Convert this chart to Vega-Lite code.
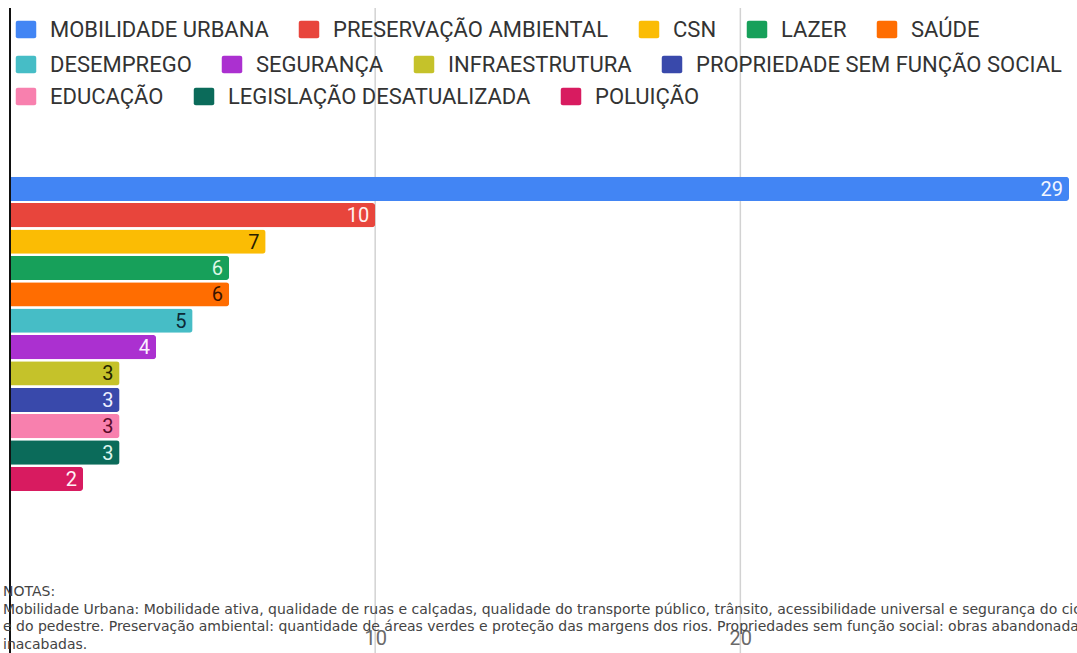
{
  "$schema": "https://vega.github.io/schema/vega-lite/v6.json",
  "width": 1059,
  "height": 645,
  "autosize": {"type": "none"},
  "padding": {"left": 10, "top": 8, "right": 8, "bottom": 0},
  "background": "white",
  "config": {
    "view": {"stroke": null},
    "font": "Roboto",
    "legend": {
      "padding": 0,
      "direction": "horizontal",
      "gridAlign": "none",
      "labelFont": "Roboto",
      "labelFontSize": 22,
      "labelColor": "#333333",
      "labelLimit": 1000,
      "labelOffset": 13,
      "columnPadding": 29,
      "symbolSize": 420,
      "symbolType": "M-1,-0.65 Q-1,-0.85 -0.8,-0.85 L0.8,-0.85 Q1,-0.85 1,-0.65 L1,0.65 Q1,0.85 0.8,0.85 L-0.8,0.85 Q-1,0.85 -1,0.65 Z",
      "symbolStrokeWidth": 0,
      "symbolOpacity": 1,
      "title": null
    }
  },
  "title": {
    "text": [
      "NOTAS:",
      "Mobilidade Urbana: Mobilidade ativa, qualidade de ruas e calçadas, qualidade do transporte público, trânsito, acessibilidade universal e segurança do ciclista",
      "e do pedestre. Preservação ambiental: quantidade de áreas verdes e proteção das margens dos rios. Propriedades sem função social:  obras abandonadas e",
      "inacabadas."
    ],
    "orient": "bottom",
    "anchor": "start",
    "frame": "group",
    "offset": -69,
    "dx": -7,
    "font": "DejaVu Sans",
    "fontSize": 14,
    "fontWeight": "normal",
    "lineHeight": 17.6,
    "color": "#444444"
  },
  "data": {
    "values": [
      {"categoria": "MOBILIDADE URBANA", "valor": 29},
      {"categoria": "PRESERVAÇÃO AMBIENTAL", "valor": 10},
      {"categoria": "CSN", "valor": 7},
      {"categoria": "LAZER", "valor": 6},
      {"categoria": "SAÚDE", "valor": 6},
      {"categoria": "DESEMPREGO", "valor": 5},
      {"categoria": "SEGURANÇA", "valor": 4},
      {"categoria": "INFRAESTRUTURA", "valor": 3},
      {"categoria": "PROPRIEDADE SEM FUNÇÃO SOCIAL", "valor": 3},
      {"categoria": "EDUCAÇÃO", "valor": 3},
      {"categoria": "LEGISLAÇÃO DESATUALIZADA", "valor": 3},
      {"categoria": "POLUIÇÃO", "valor": 2}
    ]
  },
  "layer": [
    {
      "data": {"values": [{"grade": 10}, {"grade": 20}]},
      "mark": {"type": "rule", "color": "#d2d2d2", "strokeWidth": 1.5},
      "encoding": {"x": {"field": "grade", "type": "quantitative"}}
    },
    {
      "transform": [{"filter": {"field": "categoria", "oneOf": ["MOBILIDADE URBANA", "PRESERVAÇÃO AMBIENTAL", "CSN", "LAZER", "SAÚDE"]}}],
      "mark": {"type": "bar", "cornerRadiusEnd": 3},
      "encoding": {
        "y": {
          "field": "categoria",
          "type": "nominal",
          "sort": ["MOBILIDADE URBANA", "PRESERVAÇÃO AMBIENTAL", "CSN", "LAZER", "SAÚDE", "DESEMPREGO", "SEGURANÇA", "INFRAESTRUTURA", "PROPRIEDADE SEM FUNÇÃO SOCIAL", "EDUCAÇÃO", "LEGISLAÇÃO DESATUALIZADA", "POLUIÇÃO"],
          "scale": {"domain": ["MOBILIDADE URBANA", "PRESERVAÇÃO AMBIENTAL", "CSN", "LAZER", "SAÚDE", "DESEMPREGO", "SEGURANÇA", "INFRAESTRUTURA", "PROPRIEDADE SEM FUNÇÃO SOCIAL", "EDUCAÇÃO", "LEGISLAÇÃO DESATUALIZADA", "POLUIÇÃO"], "range": [168.7, 483], "paddingInner": 0.08, "paddingOuter": 0},
          "axis": null
        },
        "x": {
          "field": "valor",
          "type": "quantitative",
          "scale": {"domain": [0, 29], "nice": false},
          "axis": {"title": null, "values": [10, 20], "grid": false, "domain": false, "ticks": false, "labelFont": "Roboto", "labelFontSize": 20, "labelColor": "#6a6a6a", "offset": -25, "labelPadding": 0}
        },
        "color": {
          "field": "categoria", "type": "nominal",
          "scale": {"domain": ["MOBILIDADE URBANA", "PRESERVAÇÃO AMBIENTAL", "CSN", "LAZER", "SAÚDE"], "range": ["#4285F4", "#E8453C", "#FBBC04", "#17A05A", "#FF6D01"]},
          "legend": {"orient": "none", "legendX": 5, "legendY": 10.5, "columns": 5}
        }
      }
    },
    {
      "transform": [{"filter": {"field": "categoria", "oneOf": ["DESEMPREGO", "SEGURANÇA", "INFRAESTRUTURA", "PROPRIEDADE SEM FUNÇÃO SOCIAL"]}}],
      "mark": {"type": "bar", "cornerRadiusEnd": 3},
      "encoding": {
        "y": {"field": "categoria", "type": "nominal"},
        "x": {"field": "valor", "type": "quantitative"},
        "color": {
          "field": "categoria", "type": "nominal",
          "scale": {"domain": ["DESEMPREGO", "SEGURANÇA", "INFRAESTRUTURA", "PROPRIEDADE SEM FUNÇÃO SOCIAL"], "range": ["#46BDC6", "#AB30D0", "#C5C22A", "#3949AB"]},
          "legend": {"orient": "none", "legendX": 5, "legendY": 45.5, "columns": 4}
        }
      }
    },
    {
      "transform": [{"filter": {"field": "categoria", "oneOf": ["EDUCAÇÃO", "LEGISLAÇÃO DESATUALIZADA", "POLUIÇÃO"]}}],
      "mark": {"type": "bar", "cornerRadiusEnd": 3},
      "encoding": {
        "y": {"field": "categoria", "type": "nominal"},
        "x": {"field": "valor", "type": "quantitative"},
        "color": {
          "field": "categoria", "type": "nominal",
          "scale": {"domain": ["EDUCAÇÃO", "LEGISLAÇÃO DESATUALIZADA", "POLUIÇÃO"], "range": ["#F880AE", "#0B6B5A", "#D81B60"]},
          "legend": {"orient": "none", "legendX": 5, "legendY": 77.5, "columns": 3}
        }
      }
    },
    {
      "mark": {"type": "text", "align": "right", "baseline": "middle", "dx": -6, "dy": 1, "fontSize": 20, "font": "Roboto"},
      "encoding": {
        "y": {"field": "categoria", "type": "nominal"},
        "x": {"field": "valor", "type": "quantitative"},
        "text": {"field": "valor", "type": "quantitative"},
        "color": {
          "field": "categoria", "type": "nominal",
          "scale": {
            "domain": ["MOBILIDADE URBANA", "PRESERVAÇÃO AMBIENTAL", "CSN", "LAZER", "SAÚDE", "DESEMPREGO", "SEGURANÇA", "INFRAESTRUTURA", "PROPRIEDADE SEM FUNÇÃO SOCIAL", "EDUCAÇÃO", "LEGISLAÇÃO DESATUALIZADA", "POLUIÇÃO"],
            "range": ["#F2F6FF", "#FFF2F0", "#2A2000", "#DDF7E6", "#3A1400", "#0C2A36", "#FBF0FF", "#222200", "#EEF0FF", "#5A0A2A", "#DDF5EE", "#FFF0F5"]
          },
          "legend": null
        }
      }
    },
    {
      "mark": {"type": "rule", "color": "#111111", "strokeWidth": 2},
      "encoding": {"x": {"datum": 0, "type": "quantitative"}}
    }
  ],
  "resolve": {"scale": {"color": "independent"}, "legend": {"color": "independent"}}
}
